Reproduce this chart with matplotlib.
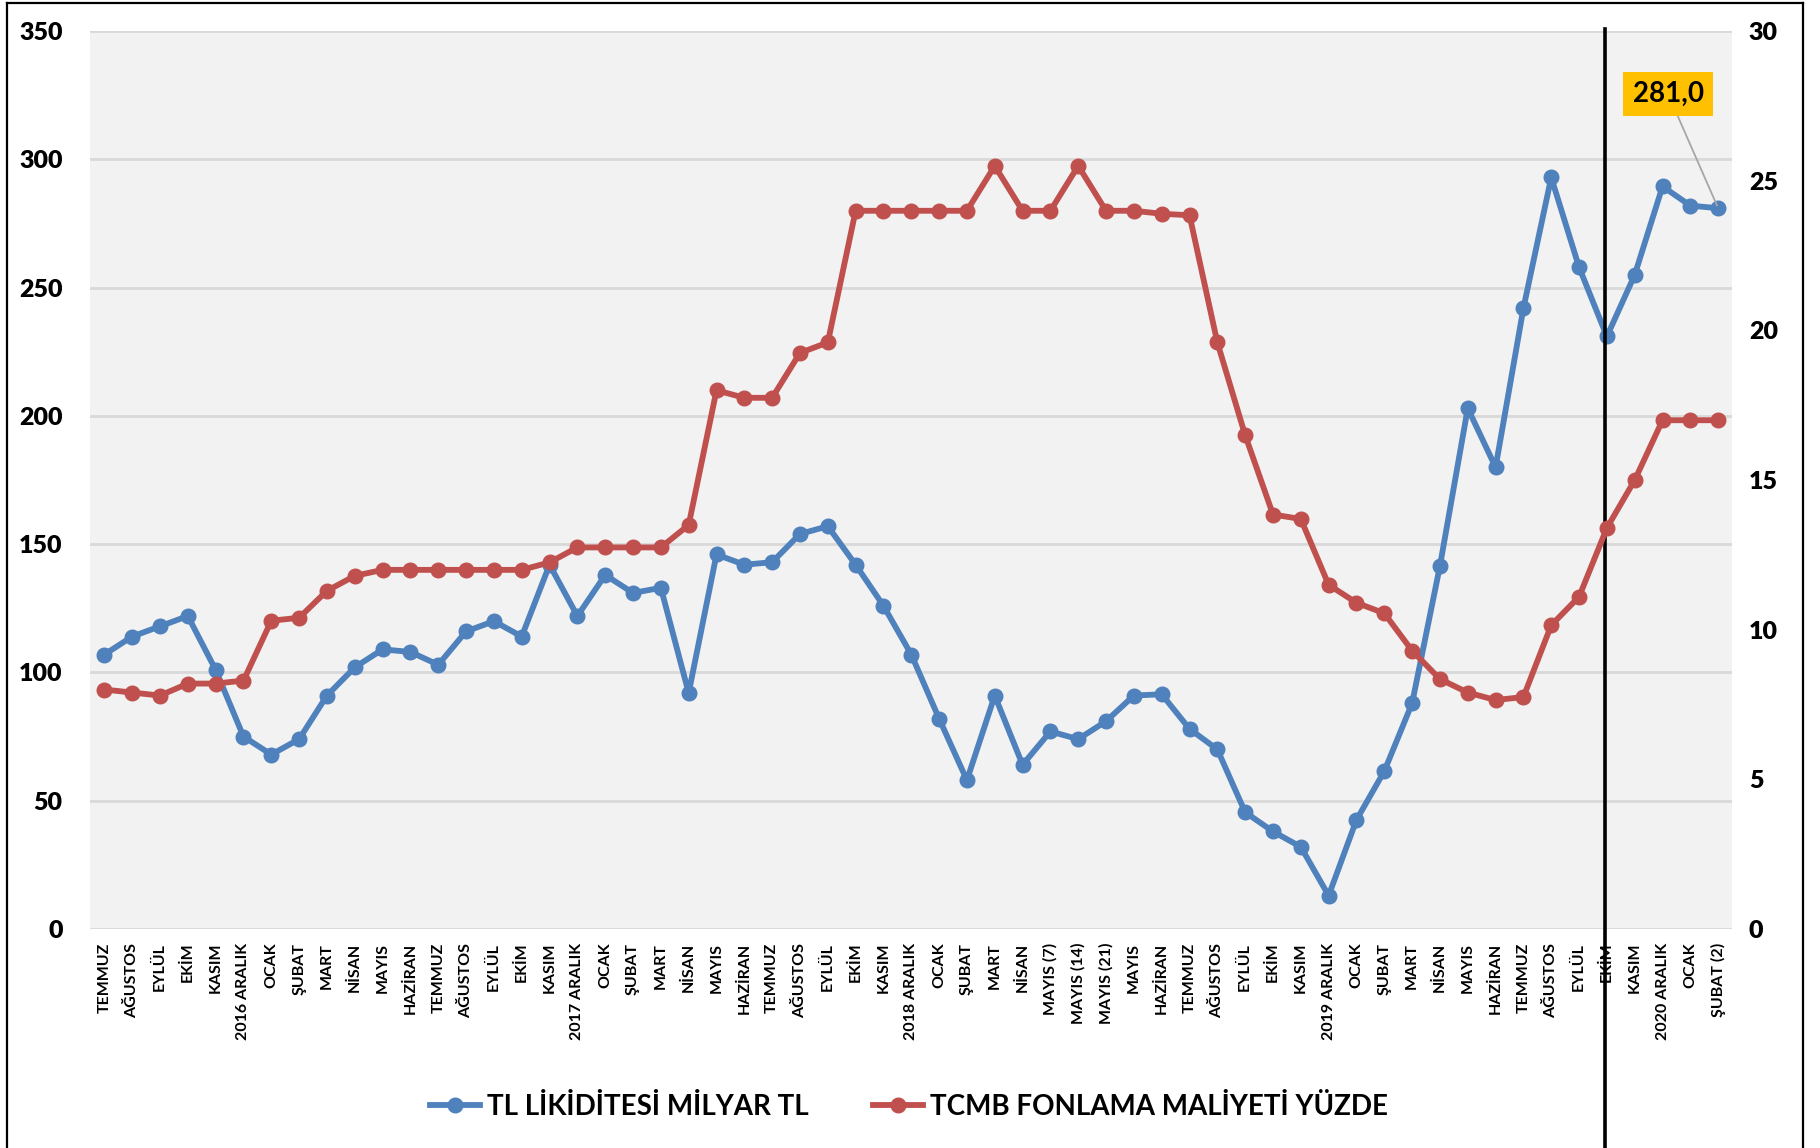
import matplotlib
matplotlib.use("Agg")
import matplotlib.pyplot as plt
from matplotlib.lines import Line2D

plt.rcParams['font.family'] = ['Lato', 'DejaVu Sans']

months = ["TEMMUZ", "AĞUSTOS", "EYLÜL", "EKİM", "KASIM", "2016 ARALIK",
          "OCAK", "ŞUBAT", "MART", "NİSAN", "MAYIS", "HAZİRAN",
          "TEMMUZ", "AĞUSTOS", "EYLÜL", "EKİM", "KASIM", "2017 ARALIK",
          "OCAK", "ŞUBAT", "MART", "NİSAN", "MAYIS", "HAZİRAN",
          "TEMMUZ", "AĞUSTOS", "EYLÜL", "EKİM", "KASIM", "2018 ARALIK",
          "OCAK", "ŞUBAT", "MART", "NİSAN", "MAYIS (7)", "MAYIS (14)",
          "MAYIS (21)", "MAYIS", "HAZİRAN", "TEMMUZ", "AĞUSTOS", "EYLÜL",
          "EKİM", "KASIM", "2019 ARALIK", "OCAK", "ŞUBAT", "MART",
          "NİSAN", "MAYIS", "HAZİRAN", "TEMMUZ", "AĞUSTOS", "EYLÜL",
          "EKİM", "KASIM", "2020 ARALIK", "OCAK", "ŞUBAT (2)"]

tl_liquidity = [107, 114, 118, 122, 101, 75,
                68, 74, 91, 102, 109, 108,
                103, 116, 120, 114, 142, 122,
                138, 131, 133, 92, 146, 142,
                143, 154, 157, 142, 126, 107,
                82, 58, 91, 64, 77, 74,
                81, 91, 91.5, 78, 70, 45.5,
                38, 32, 13, 42.5, 61.5, 88,
                141.5, 203, 180, 242, 293, 258,
                231, 255, 289.5, 282, 281.0]

funding_cost = [8.0, 7.9, 7.8, 8.2, 8.2, 8.3,
                10.3, 10.4, 11.3, 11.8, 12.0, 12.0,
                12.0, 12.0, 12.0, 12.0, 12.25, 12.75,
                12.75, 12.75, 12.75, 13.5, 18.0, 17.75,
                17.75, 19.25, 19.6, 24.0, 24.0, 24.0,
                24.0, 24.0, 25.5, 24.0, 24.0, 25.5,
                24.0, 24.0, 23.9, 23.85, 19.6, 16.5,
                13.85, 13.7, 11.5, 10.9, 10.55, 9.3,
                8.35, 7.9, 7.65, 7.75, 10.15, 11.1,
                13.4, 15.0, 17.0, 17.0, 17.0]

left_ticks = [0, 50, 100, 150, 200, 250, 300, 350]
right_ticks = [0, 5, 10, 15, 20, 25, 30]

BLUE = "#4f81bd"
RED = "#c0504d"

fig = plt.figure(figsize=(18.2, 11.48), dpi=100)
ax = fig.add_axes([0.0497, 0.1908, 0.902, 0.782])
ax.set_facecolor("#f2f2f2")
ax2 = ax.twinx()

x = list(range(len(months)))

ax.set_ylim(0, 350)
ax2.set_ylim(0, 30)
ax.set_xlim(-0.5, len(months) - 0.5)
ax.set_yticks(left_ticks)
ax2.set_yticks(right_ticks)
ax.grid(axis="y", color="#d9d9d9", linewidth=2)
ax.set_axisbelow(True)

for a in (ax, ax2):
    for s in a.spines.values():
        s.set_visible(False)
    a.tick_params(length=0)

ax.tick_params(axis="y", labelsize=18, pad=20)
ax2.tick_params(axis="y", labelsize=18, pad=12)
for lbl in ax.get_yticklabels() + ax2.get_yticklabels():
    lbl.set_fontweight("heavy")

ax.set_xticks(x)
ax.set_xticklabels(months, rotation=90, fontsize=11.5, fontweight="bold")
ax.tick_params(axis="x", pad=10)

l1, = ax.plot(x, tl_liquidity, color=BLUE, lw=4.2, marker="o", ms=10.5,
              zorder=3, label="TL LİKİDİTESİ MİLYAR TL")
l2, = ax2.plot(x, funding_cost, color=RED, lw=4.2, marker="o", ms=10.5,
               zorder=3, label="TCMB FONLAMA MALİYETİ YÜZDE")

# value callout for the last observation
last = len(tl_liquidity) - 1
ax.annotate(f"{tl_liquidity[last]:.1f}".replace(".", ","),
            xy=(x[last], tl_liquidity[last]), xytext=(56.2, 325.5),
            ha="center", va="center", fontsize=20, fontweight="bold",
            bbox=dict(boxstyle="square,pad=0.33", fc="#ffc000", ec="none"),
            arrowprops=dict(arrowstyle="-", color="#a6a6a6", lw=1.3,
                            shrinkA=0, shrinkB=2),
            zorder=6)

# vertical separator through the chart and below it
ax.plot([53.92, 53.92], [1.003, -0.25], color="black", lw=2.6,
        transform=ax.get_xaxis_transform(), clip_on=False, zorder=10)

leg = fig.legend(handles=[l1, l2], loc="center", bbox_to_anchor=(0.4995, 0.036),
                 ncol=2, frameon=False, fontsize=20, handlelength=1.8,
                 columnspacing=2.3, handletextpad=0.25)
for t in leg.get_texts():
    t.set_fontweight("bold")

# outer frame (left, top, right)
fr = dict(color="black", lw=1.6, transform=fig.transFigure)
fig.add_artist(Line2D([0.0040, 0.0040], [0.0, 0.997], **fr))
fig.add_artist(Line2D([0.0040, 0.9905], [0.997, 0.997], **fr))
fig.add_artist(Line2D([0.9905, 0.9905], [0.0, 0.997], **fr))

fig.savefig("out.png", dpi=100, facecolor="white")
